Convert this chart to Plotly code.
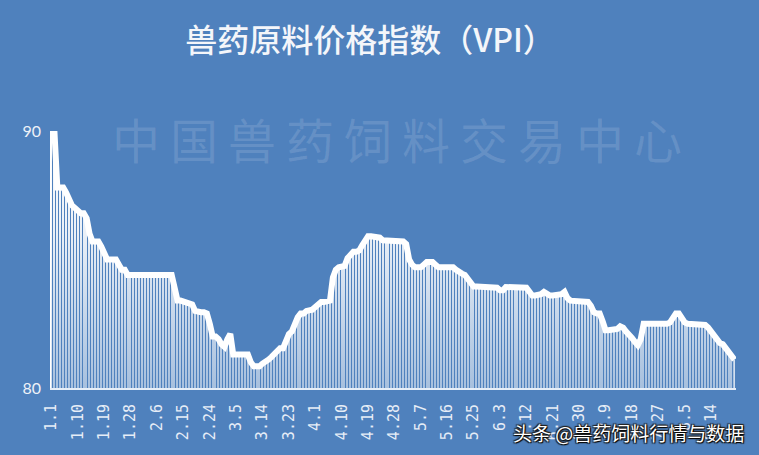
import pandas as pd
import plotly.graph_objects as go

# ---- data ----
VPI = [
    90.0, 90.0, 87.8, 87.8, 87.8, 87.6, 87.3, 87.1, 87.0, 86.9,
    86.8, 86.8, 86.6, 86.0, 85.7, 85.7, 85.7, 85.5, 85.2, 85.0,
    85.0, 85.0, 85.0, 84.8, 84.6, 84.6, 84.4, 84.4, 84.4, 84.4,
    84.4, 84.4, 84.4, 84.4, 84.4, 84.4, 84.4, 84.4, 84.4, 84.4,
    84.4, 84.4, 83.9, 83.4, 83.4, 83.35, 83.3, 83.3, 83.25, 83.0,
    82.95, 82.95, 82.95, 82.9, 82.5, 82.0, 82.0, 81.9, 81.7, 81.6,
    81.9, 82.1, 81.3, 81.3, 81.3, 81.3, 81.3, 81.3, 81.0, 80.85,
    80.85, 80.85, 80.95, 81.0, 81.1, 81.2, 81.3, 81.45, 81.55, 81.55,
    81.9, 82.1, 82.2, 82.5, 82.75, 82.9, 82.9, 83.0, 83.0, 83.05,
    83.15, 83.25, 83.35, 83.35, 83.35, 83.4, 84.3, 84.6, 84.7, 84.7,
    84.75, 85.05, 85.2, 85.3, 85.3, 85.35, 85.55, 85.75, 85.9, 85.9,
    85.9, 85.9, 85.85, 85.75, 85.75, 85.75, 85.75, 85.75, 85.75, 85.7,
    85.7, 85.6, 85.0, 84.8, 84.7, 84.7, 84.7, 84.8, 84.9, 84.9,
    84.9, 84.8, 84.7, 84.7, 84.7, 84.7, 84.7, 84.7, 84.6, 84.5,
    84.45, 84.4, 84.25, 84.05, 83.95, 83.95, 83.95, 83.95, 83.95, 83.95,
    83.95, 83.95, 83.9, 83.8, 83.8, 83.93, 83.93, 83.93, 83.93, 83.93,
    83.93, 83.93, 83.9, 83.75, 83.6, 83.6, 83.6, 83.65, 83.74, 83.65,
    83.6, 83.6, 83.6, 83.6, 83.65, 83.74, 83.5, 83.4, 83.4, 83.4,
    83.4, 83.4, 83.35, 83.35, 83.2, 82.95, 82.9, 82.9, 82.6, 82.25,
    82.25, 82.25, 82.25, 82.3, 82.4, 82.35, 82.2, 82.1, 81.95, 81.8,
    81.67, 81.9, 82.5, 82.5, 82.5, 82.5, 82.5, 82.45, 82.5, 82.5,
    82.5, 82.55, 82.75, 82.9, 82.9, 82.7, 82.55, 82.5, 82.5, 82.5,
    82.5, 82.5, 82.5, 82.45, 82.35, 82.2, 82.0, 81.85, 81.75, 81.7,
    81.55, 81.35, 81.2, 81.1,
]
_days = pd.date_range("2019-01-01", periods=len(VPI), freq="D")
DATES = [f"{d.month}.{d.day}" for d in _days]
TICK_LABELS = ["1.1", "1.10", "1.19", "1.28", "2.6", "2.15", "2.24", "3.5", "3.14",
               "3.23", "4.1", "4.10", "4.19", "4.28", "5.7", "5.16", "5.25", "6.3",
               "6.12", "6.21", "6.30", "7.9", "7.18", "7.27", "8.5", "8.14"]
Y_TICKS = [80, 90]
TITLE = "兽药原料价格指数（VPI）"
WATERMARK = "中国兽药饲料交易中心"
SOURCE = "头条 @兽药饲料行情与数据"

BG = "#4F81BD"
W, H = 759, 455
L, R, T, B = 50, 23, 131, 67
PW, PH = W - L - R, H - T - B


def px_to_paper(px, py):
    return (px - L) / PW, (H - B - py) / PH


fig = go.Figure()
fig.add_trace(go.Bar(x=DATES, y=VPI, width=0.45, marker=dict(color="white", line=dict(width=0)),
                     hoverinfo="skip"))
fig.add_trace(go.Scatter(
    x=DATES, y=VPI, mode="lines", line=dict(width=0), fill="tozeroy",
    fillgradient=dict(type="vertical", start=80, stop=90,
                      colorscale=[[0, "rgba(79,129,189,0.5)"], [0.6, "rgba(79,129,189,0.12)"],
                                  [1, "rgba(79,129,189,0)"]]),
    hoverinfo="skip"))
fig.add_trace(go.Scatter(x=DATES, y=VPI, mode="lines",
                         line=dict(color="white", width=6, shape="linear")))

annotations = []
# watermark characters
for i, ch in enumerate(WATERMARK):
    xp, yp = px_to_paper(136 + 58 * i, 138)
    annotations.append(dict(text=ch, x=xp, y=yp, xref="paper", yref="paper", showarrow=False,
                            xanchor="center", yanchor="middle",
                            font=dict(family="Noto Sans CJK SC", size=48,
                                      color="rgba(255,255,255,0.13)")))
xp, yp = px_to_paper(628, 432)
annotations.append(dict(text=SOURCE, x=xp, y=yp, xref="paper", yref="paper", showarrow=False,
                        xanchor="center", yanchor="middle",
                        font=dict(family="Noto Sans CJK SC", size=19, color="white",
                                  shadow="1px 1px 1px #000, -1px -1px 1px #222, 1px -1px 1px #222, -1px 1px 1px #222")))

fig.update_layout(
    width=W, height=H, margin=dict(l=L, r=R, t=T, b=B, pad=0),
    paper_bgcolor=BG, plot_bgcolor=BG, showlegend=False, bargap=0,
    title=dict(text=TITLE, x=370 / W, xanchor="center", y=1 - 41 / H, yanchor="middle",
               font=dict(family="Noto Sans CJK SC", size=32, color="#f4f6fa", weight=500)),
    xaxis=dict(type="category", range=[-0.5, len(VPI) - 0.5], tickmode="array",
               tickvals=TICK_LABELS, ticktext=TICK_LABELS, tickangle=-90,
               tickfont=dict(family="DejaVu Sans Mono", size=15, color="#e6edf7"),
               showgrid=False, zeroline=False, showline=True, linecolor="#e6eef8",
               linewidth=2, ticks="", ticklabelstandoff=8),
    yaxis=dict(range=[80, 90], tickmode="array", tickvals=Y_TICKS,
               tickfont=dict(family="Lato", size=16, color="#eef2f8"),
               showgrid=False, zeroline=False, showline=False, ticks="",
               ticklabelstandoff=8),
    annotations=annotations,
)
fig.write_html("out.html", config={"displayModeBar": False},
               post_script="document.body.style.margin='0';document.body.style.overflow='hidden';")
